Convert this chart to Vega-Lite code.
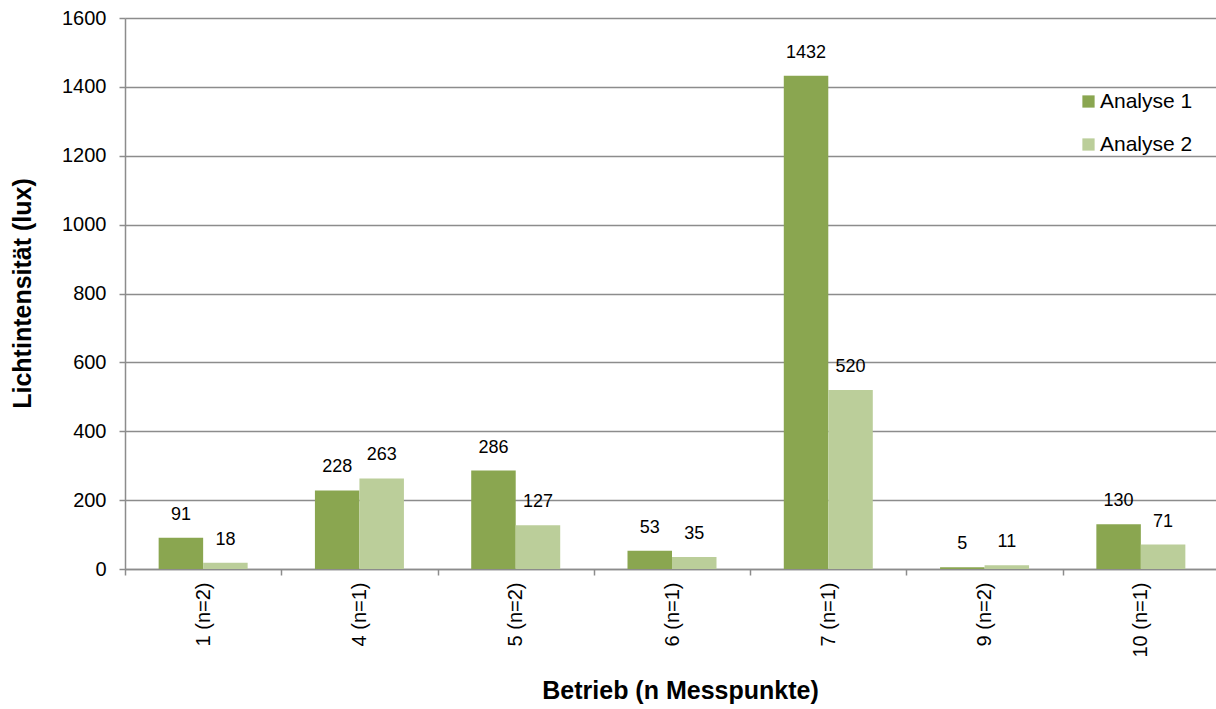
{
  "$schema": "https://vega.github.io/schema/vega-lite/v6.json",
  "autosize": "none",
  "width": 1094,
  "height": 551,
  "padding": {"left": 125, "top": 18, "right": 0, "bottom": 140},
  "background": "white",
  "config": {
    "view": {"stroke": null},
    "font": "Liberation Sans",
    "text": {"font": "Liberation Sans"}
  },
  "data": {
    "values": [
      {"betrieb": "1 (n=2)", "analyse": "Analyse 1", "wert": 91},
      {"betrieb": "1 (n=2)", "analyse": "Analyse 2", "wert": 18},
      {"betrieb": "4 (n=1)", "analyse": "Analyse 1", "wert": 228},
      {"betrieb": "4 (n=1)", "analyse": "Analyse 2", "wert": 263},
      {"betrieb": "5 (n=2)", "analyse": "Analyse 1", "wert": 286},
      {"betrieb": "5 (n=2)", "analyse": "Analyse 2", "wert": 127},
      {"betrieb": "6 (n=1)", "analyse": "Analyse 1", "wert": 53},
      {"betrieb": "6 (n=1)", "analyse": "Analyse 2", "wert": 35},
      {"betrieb": "7 (n=1)", "analyse": "Analyse 1", "wert": 1432},
      {"betrieb": "7 (n=1)", "analyse": "Analyse 2", "wert": 520},
      {"betrieb": "9 (n=2)", "analyse": "Analyse 1", "wert": 5},
      {"betrieb": "9 (n=2)", "analyse": "Analyse 2", "wert": 11},
      {"betrieb": "10 (n=1)", "analyse": "Analyse 1", "wert": 130},
      {"betrieb": "10 (n=1)", "analyse": "Analyse 2", "wert": 71}
    ]
  },
  "encoding": {
    "x": {
      "field": "betrieb",
      "type": "nominal",
      "sort": null,
      "scale": {"paddingInner": 0, "paddingOuter": 0},
      "axis": {
        "title": "Betrieb (n Messpunkte)",
        "titleFont": "Liberation Sans",
        "titleFontSize": 25,
        "titleFontWeight": "bold",
        "titleColor": "#000000",
        "titleX": 555,
        "titleY": 121,
        "titleBaseline": "middle",
        "labelAngle": -90,
        "labelAlign": "right",
        "labelBaseline": "middle",
        "labelFontSize": 20,
        "labelColor": "#000000",
        "labelPadding": 7,
        "tickBand": "extent",
        "tickSize": 6,
        "tickColor": "#8c8c8c",
        "tickWidth": 1.5,
        "domainColor": "#8c8c8c",
        "domainWidth": 1.5,
        "grid": false
      }
    },
    "xOffset": {
      "field": "analyse",
      "type": "nominal",
      "scale": {"paddingInner": 0, "paddingOuter": 0.756}
    },
    "y": {
      "field": "wert",
      "type": "quantitative",
      "scale": {"domain": [0, 1600], "nice": false},
      "axis": {
        "title": "Lichtintensität (lux)",
        "titleFont": "Liberation Sans",
        "titleFontSize": 25,
        "titleFontWeight": "bold",
        "titleColor": "#000000",
        "titleX": -103,
        "titleY": 275,
        "titleBaseline": "middle",
        "titleAlign": "center",
        "titleAngle": -90,
        "values": [0, 200, 400, 600, 800, 1000, 1200, 1400, 1600],
        "format": "d",
        "labelFontSize": 20,
        "labelColor": "#000000",
        "labelPadding": 13,
        "tickSize": 6,
        "tickColor": "#8c8c8c",
        "tickWidth": 1.5,
        "domainColor": "#8c8c8c",
        "domainWidth": 1.5,
        "grid": true,
        "gridColor": "#8c8c8c",
        "gridWidth": 1.5
      }
    }
  },
  "layer": [
    {
      "mark": {"type": "bar"},
      "encoding": {
        "color": {
          "field": "analyse",
          "type": "nominal",
          "scale": {"domain": ["Analyse 1", "Analyse 2"], "range": ["#8AA650", "#BBCE9A"]},
          "legend": {
            "title": null,
            "orient": "none",
            "legendX": 953,
            "legendY": 73,
            "symbolType": "square",
            "symbolSize": 150,
            "symbolStrokeWidth": 0,
            "symbolOpacity": 1,
            "labelFontSize": 21,
            "labelColor": "#000000",
            "labelOffset": 1,
            "rowPadding": 21,
            "padding": 0
          }
        }
      }
    },
    {
      "mark": {"type": "text", "dy": -23, "baseline": "middle", "align": "center", "fontSize": 18, "color": "#000000"},
      "encoding": {"text": {"field": "wert", "type": "quantitative"}}
    }
  ]
}
